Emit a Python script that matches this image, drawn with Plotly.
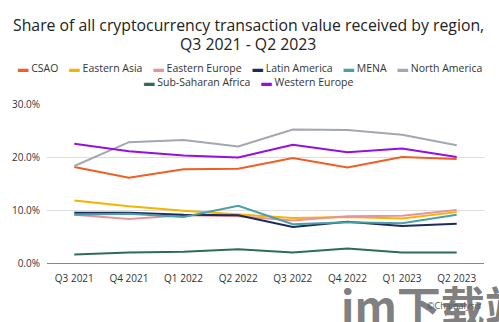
import plotly.graph_objects as go

quarters = ["Q3 2021", "Q4 2021", "Q1 2022", "Q2 2022", "Q3 2022", "Q4 2022", "Q1 2023", "Q2 2023"]

csao = [18.1, 16.1, 17.7, 17.8, 19.8, 18.0, 20.0, 19.6]
eastern_asia = [11.8, 10.7, 9.85, 9.2, 8.5, 8.7, 8.4, 9.6]
eastern_europe = [9.1, 8.3, 9.0, 8.8, 8.0, 8.8, 8.9, 10.0]
latin_america = [9.5, 9.5, 9.1, 9.0, 6.8, 7.8, 7.0, 7.4]
mena = [9.1, 9.3, 8.7, 10.8, 7.3, 7.7, 7.5, 9.1]
north_america = [18.3, 22.8, 23.2, 22.0, 25.2, 25.1, 24.2, 22.2]
sub_saharan_africa = [1.6, 2.0, 2.1, 2.6, 2.0, 2.75, 2.0, 2.0]
western_europe = [22.5, 21.1, 20.3, 19.9, 22.3, 20.9, 21.6, 20.0]

series_names = ["CSAO", "Eastern Asia", "Eastern Europe", "Latin America", "MENA",
                "North America", "Sub-Saharan Africa", "Western Europe"]
series_values = [csao, eastern_asia, eastern_europe, latin_america, mena,
                 north_america, sub_saharan_africa, western_europe]
series_colors = ["#EE5F23", "#F4B400", "#E8939C", "#1E2A5C", "#4B9FA6",
                 "#A2A7B2", "#2F6B5B", "#9310E0"]

y_ticks = [0, 10, 20, 30]
y_tick_labels = ["0.0%", "10.0%", "20.0%", "30.0%"]

FONT = "Open Sans"

fig = go.Figure()
for name, vals, col in zip(series_names, series_values, series_colors):
    fig.add_trace(go.Scatter(x=quarters, y=vals, name=name, mode="lines",
                             line=dict(color=col, width=2), showlegend=False))

def legend_row(idx):
    parts = []
    for i in idx:
        parts.append('<span style="color:%s">\u25AC</span> %s' % (series_colors[i], series_names[i]))
    return ("\u00a0" * 4).join(parts)

annotations = [
    dict(text="Share of all cryptocurrency transaction value received by region,",
         xref="paper", yref="paper", x=0.461, y=1.497, xanchor="center", yanchor="middle",
         showarrow=False, font=dict(size=15.8, color="#222", family=FONT)),
    dict(text="Q3 2021 - Q2 2023",
         xref="paper", yref="paper", x=0.461, y=1.375, xanchor="center", yanchor="middle",
         showarrow=False, font=dict(size=15.8, color="#222", family=FONT)),
    dict(text=legend_row([0, 1, 2, 3, 4, 5]), xref="paper", yref="paper", x=0.465, y=1.226,
         xanchor="center", yanchor="middle", showarrow=False, font=dict(size=10.5, color="#333", family=FONT)),
    dict(text=legend_row([6, 7]), xref="paper", yref="paper", x=0.463, y=1.138,
         xanchor="center", yanchor="middle", showarrow=False, font=dict(size=10.5, color="#333", family=FONT)),
    dict(text="<b>im下载站</b>", xref="paper", yref="paper", x=0.668, y=-0.262,
         xanchor="left", yanchor="middle", showarrow=False,
         font=dict(size=44, color="rgba(110,110,110,0.9)", family="Noto Sans CJK SC")),
    dict(text="©Chainalysis", xref="paper", yref="paper", x=0.865, y=-0.27,
         xanchor="left", yanchor="middle", showarrow=False,
         font=dict(size=9, color="#555", family=FONT)),
]

fig.update_layout(
    width=499, height=322,
    margin=dict(l=47, r=15, t=104, b=59, pad=0),
    paper_bgcolor="white", plot_bgcolor="white",
    font=dict(family=FONT, color="#333"),
    xaxis=dict(type="category", range=[-0.5, 7.5], showgrid=False, showline=False, zeroline=False,
               ticks="", ticklabelstandoff=8, tickfont=dict(size=10, color="#333")),
    yaxis=dict(range=[0, 30], tickvals=y_ticks, ticktext=y_tick_labels,
               showgrid=True, gridcolor="#DDDDDD", gridwidth=1,
               zeroline=True, zerolinecolor="#888888", zerolinewidth=1,
               showline=False, ticks="", ticklabelstandoff=6,
               tickfont=dict(size=10, color="#333")),
    annotations=annotations,
    showlegend=False,
)

fig.write_html("out.html")
